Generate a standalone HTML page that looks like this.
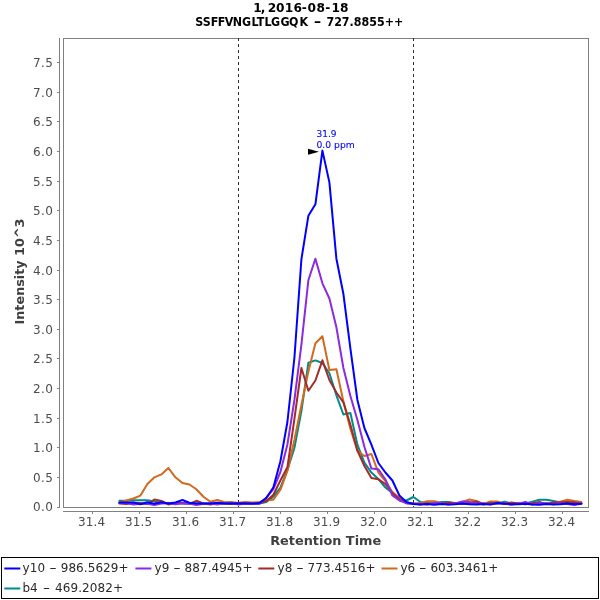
<!DOCTYPE html>
<html><head><meta charset="utf-8"><title>Chromatogram</title>
<style>
html,body{margin:0;padding:0;background:#fff;}
svg{display:block;}
text{font-family:"DejaVu Sans","Liberation Sans",sans-serif;}
.b{font-weight:bold;}
.tk{font-size:12px;fill:#4c4c4c;}
.lg{font-size:12px;fill:#2a2a2a;letter-spacing:0.07px;}
.an{font-size:9.4px;fill:#0000ff;stroke:#0000ff;stroke-width:0.1px;}
</style></head><body>
<svg width="600" height="600" viewBox="0 0 600 600">
<rect width="600" height="600" fill="#fff"/>

<text class="b" font-size="12" transform="translate(253.2,11.7) scale(1.018,1)" dx="0 -0.9 0 -1.9 -0.2 0.1 0.4 -0.3 0.8 0.4 0.2 1.1 0.1">1, 2016-08-18</text>
<text class="b" font-size="12" text-anchor="middle" style="word-spacing:2.8px" transform="translate(299.3,26) scale(0.925,1)" dx="0 0 0 -0.65 -0.65 -0.65 -0.22 0.43 0 0.22 -0.65 0.43 -0.43 1.08 0.65">SSFFVNGLTLGGQK <tspan dx="-1.6" textLength="8.2" lengthAdjust="spacingAndGlyphs">-</tspan><tspan dx="-1.4"> 727.8855++</tspan></text>
<rect x="63.5" y="38.5" width="525" height="469" fill="#fff" stroke="#808080" stroke-width="1"/>
<line x1="59.5" y1="38" x2="59.5" y2="508" stroke="#808080" stroke-width="1"/>
<line x1="63" y1="511.5" x2="589" y2="511.5" stroke="#808080" stroke-width="1"/>
<line x1="57" y1="507.5" x2="59" y2="507.5" stroke="#808080" stroke-width="1"/>
<text class="tk" x="52.9" y="511" text-anchor="end" textLength="20">0.0</text>
<line x1="57" y1="477.5" x2="59" y2="477.5" stroke="#808080" stroke-width="1"/>
<text class="tk" x="52.9" y="482" text-anchor="end" textLength="20">0.5</text>
<line x1="57" y1="447.5" x2="59" y2="447.5" stroke="#808080" stroke-width="1"/>
<text class="tk" x="52.9" y="452" text-anchor="end" textLength="20">1.0</text>
<line x1="57" y1="418.5" x2="59" y2="418.5" stroke="#808080" stroke-width="1"/>
<text class="tk" x="52.9" y="423" text-anchor="end" textLength="20">1.5</text>
<line x1="57" y1="388.5" x2="59" y2="388.5" stroke="#808080" stroke-width="1"/>
<text class="tk" x="52.9" y="393" text-anchor="end" textLength="20">2.0</text>
<line x1="57" y1="358.5" x2="59" y2="358.5" stroke="#808080" stroke-width="1"/>
<text class="tk" x="52.9" y="363" text-anchor="end" textLength="20">2.5</text>
<line x1="57" y1="329.5" x2="59" y2="329.5" stroke="#808080" stroke-width="1"/>
<text class="tk" x="52.9" y="334" text-anchor="end" textLength="20">3.0</text>
<line x1="57" y1="299.5" x2="59" y2="299.5" stroke="#808080" stroke-width="1"/>
<text class="tk" x="52.9" y="304" text-anchor="end" textLength="20">3.5</text>
<line x1="57" y1="270.5" x2="59" y2="270.5" stroke="#808080" stroke-width="1"/>
<text class="tk" x="52.9" y="275" text-anchor="end" textLength="20">4.0</text>
<line x1="57" y1="240.5" x2="59" y2="240.5" stroke="#808080" stroke-width="1"/>
<text class="tk" x="52.9" y="245" text-anchor="end" textLength="20">4.5</text>
<line x1="57" y1="210.5" x2="59" y2="210.5" stroke="#808080" stroke-width="1"/>
<text class="tk" x="52.9" y="215" text-anchor="end" textLength="20">5.0</text>
<line x1="57" y1="181.5" x2="59" y2="181.5" stroke="#808080" stroke-width="1"/>
<text class="tk" x="52.9" y="186" text-anchor="end" textLength="20">5.5</text>
<line x1="57" y1="151.5" x2="59" y2="151.5" stroke="#808080" stroke-width="1"/>
<text class="tk" x="52.9" y="156" text-anchor="end" textLength="20">6.0</text>
<line x1="57" y1="121.5" x2="59" y2="121.5" stroke="#808080" stroke-width="1"/>
<text class="tk" x="52.9" y="126" text-anchor="end" textLength="20">6.5</text>
<line x1="57" y1="92.5" x2="59" y2="92.5" stroke="#808080" stroke-width="1"/>
<text class="tk" x="52.9" y="97" text-anchor="end" textLength="20">7.0</text>
<line x1="57" y1="62.5" x2="59" y2="62.5" stroke="#808080" stroke-width="1"/>
<text class="tk" x="52.9" y="67" text-anchor="end" textLength="20">7.5</text>
<line x1="92.5" y1="512" x2="92.5" y2="514" stroke="#808080" stroke-width="1"/>
<text class="tk" x="91.6" y="526.2" text-anchor="middle" textLength="27.3">31.4</text>
<line x1="139.5" y1="512" x2="139.5" y2="514" stroke="#808080" stroke-width="1"/>
<text class="tk" x="138.6" y="526.2" text-anchor="middle" textLength="27.3">31.5</text>
<line x1="186.5" y1="512" x2="186.5" y2="514" stroke="#808080" stroke-width="1"/>
<text class="tk" x="185.6" y="526.2" text-anchor="middle" textLength="27.3">31.6</text>
<line x1="233.5" y1="512" x2="233.5" y2="514" stroke="#808080" stroke-width="1"/>
<text class="tk" x="232.6" y="526.2" text-anchor="middle" textLength="27.3">31.7</text>
<line x1="280.5" y1="512" x2="280.5" y2="514" stroke="#808080" stroke-width="1"/>
<text class="tk" x="279.6" y="526.2" text-anchor="middle" textLength="27.3">31.8</text>
<line x1="327.5" y1="512" x2="327.5" y2="514" stroke="#808080" stroke-width="1"/>
<text class="tk" x="326.6" y="526.2" text-anchor="middle" textLength="27.3">31.9</text>
<line x1="374.5" y1="512" x2="374.5" y2="514" stroke="#808080" stroke-width="1"/>
<text class="tk" x="373.6" y="526.2" text-anchor="middle" textLength="27.3">32.0</text>
<line x1="421.5" y1="512" x2="421.5" y2="514" stroke="#808080" stroke-width="1"/>
<text class="tk" x="420.6" y="526.2" text-anchor="middle" textLength="27.3">32.1</text>
<line x1="468.5" y1="512" x2="468.5" y2="514" stroke="#808080" stroke-width="1"/>
<text class="tk" x="467.6" y="526.2" text-anchor="middle" textLength="27.3">32.2</text>
<line x1="515.5" y1="512" x2="515.5" y2="514" stroke="#808080" stroke-width="1"/>
<text class="tk" x="514.6" y="526.2" text-anchor="middle" textLength="27.3">32.3</text>
<line x1="562.5" y1="512" x2="562.5" y2="514" stroke="#808080" stroke-width="1"/>
<text class="tk" x="561.6" y="526.2" text-anchor="middle" textLength="27.3">32.4</text>
<text class="b" x="325.7" y="545" font-size="13" fill="#404040" text-anchor="middle" textLength="111" lengthAdjust="spacingAndGlyphs">Retention Time</text>
<text class="b" font-size="13" fill="#404040" text-anchor="middle" textLength="106" lengthAdjust="spacingAndGlyphs" transform="translate(24.4,271.5) rotate(-90)">Intensity 10^3</text>
<line x1="238.5" y1="38" x2="238.5" y2="507" stroke="#2d2d2d" stroke-width="1" stroke-dasharray="3 3"/>
<line x1="413.5" y1="38" x2="413.5" y2="507" stroke="#2d2d2d" stroke-width="1" stroke-dasharray="3 3"/>
<polyline points="119.4,500.8 126.4,500.8 133.4,500.2 140.4,500.2 147.4,500.2 154.4,501.5 161.4,503.0 168.4,503.5 175.4,503.5 182.4,503.5 189.4,503.5 196.4,503.5 203.4,503.5 210.4,503.5 217.4,503.5 224.4,503.5 231.4,503.5 238.4,503.5 245.4,503.5 252.4,503.5 259.4,503.5 266.4,502.0 273.4,496.7 280.4,487.5 287.4,470.0 294.4,448.0 301.4,411.0 308.4,362.7 315.4,360.4 322.4,363.0 329.4,373.3 336.4,395.3 343.4,414.5 350.4,413.0 357.4,444.7 364.4,462.7 371.4,472.6 378.4,479.0 385.4,487.5 392.4,493.0 399.4,500.0 406.4,500.5 413.4,497.0 420.4,502.0 427.4,503.5 434.4,503.5 441.4,501.9 448.4,501.9 455.4,503.5 462.4,503.5 469.4,503.5 476.4,503.5 483.4,503.5 490.4,503.5 497.4,503.5 504.4,501.7 511.4,503.5 518.4,503.5 525.4,503.5 532.4,501.6 539.4,499.8 546.4,499.8 553.4,501.0 560.4,502.5 567.4,503.5 574.4,503.5 581.4,503.5" fill="none" stroke="#008b8b" stroke-width="2" stroke-linejoin="round" stroke-linecap="round"/>
<polyline points="119.4,502.5 126.4,500.5 133.4,498.5 140.4,495.6 147.4,484.0 154.4,477.3 161.4,474.4 168.4,468.0 175.4,477.3 182.4,483.0 189.4,484.5 196.4,489.3 203.4,496.7 210.4,501.7 217.4,500.0 224.4,502.3 231.4,502.0 238.4,503.0 245.4,502.0 252.4,502.5 259.4,502.0 266.4,500.3 273.4,499.8 280.4,489.8 287.4,471.0 294.4,440.0 301.4,405.0 308.4,371.5 315.4,343.3 322.4,336.2 329.4,370.0 336.4,369.2 343.4,401.5 350.4,428.7 357.4,450.7 364.4,456.0 371.4,454.0 378.4,472.6 385.4,481.0 392.4,492.0 399.4,498.0 406.4,503.5 413.4,504.0 420.4,503.0 427.4,501.3 434.4,501.3 441.4,503.0 448.4,503.5 455.4,503.5 462.4,502.0 469.4,499.5 476.4,501.0 483.4,504.0 490.4,501.5 497.4,501.5 504.4,504.0 511.4,503.5 518.4,503.5 525.4,503.5 532.4,503.5 539.4,503.5 546.4,503.5 553.4,503.5 560.4,501.6 567.4,499.8 574.4,501.0 581.4,502.0" fill="none" stroke="#d2691e" stroke-width="2" stroke-linejoin="round" stroke-linecap="round"/>
<polyline points="119.4,503.4 126.4,504.0 133.4,502.7 140.4,503.0 147.4,504.1 154.4,499.5 161.4,501.0 168.4,504.4 175.4,503.0 182.4,503.0 189.4,503.8 196.4,500.8 203.4,503.4 210.4,504.5 217.4,503.3 224.4,503.5 231.4,504.1 238.4,502.7 245.4,503.0 252.4,504.1 259.4,503.2 266.4,501.0 273.4,494.8 280.4,480.5 287.4,467.3 294.4,419.0 301.4,368.0 308.4,390.7 315.4,380.5 322.4,360.3 329.4,380.0 336.4,392.5 343.4,402.3 350.4,424.7 357.4,450.7 364.4,466.0 371.4,478.0 378.4,479.2 385.4,484.0 392.4,493.0 399.4,499.0 406.4,503.0 413.4,503.4 420.4,504.4 427.4,503.3 434.4,503.7 441.4,504.1 448.4,502.6 455.4,503.1 462.4,504.0 469.4,503.0 476.4,501.5 483.4,504.5 490.4,503.0 497.4,503.3 504.4,503.8 511.4,502.6 518.4,503.4 525.4,504.3 532.4,503.2 539.4,502.0 546.4,504.1 553.4,502.6 560.4,502.3 567.4,502.0 574.4,502.3 581.4,503.8" fill="none" stroke="#a52a2a" stroke-width="2" stroke-linejoin="round" stroke-linecap="round"/>
<polyline points="119.4,503.0 126.4,503.0 133.4,504.5 140.4,503.7 147.4,503.8 154.4,504.9 161.4,503.4 168.4,503.1 175.4,504.2 182.4,503.2 189.4,503.5 196.4,504.9 203.4,503.8 210.4,503.6 217.4,504.5 224.4,503.0 231.4,503.1 238.4,504.5 245.4,503.6 252.4,504.0 259.4,503.8 266.4,497.5 273.4,489.0 280.4,472.0 287.4,444.5 294.4,400.0 301.4,344.7 308.4,280.0 315.4,258.7 322.4,283.3 329.4,298.5 336.4,327.3 343.4,368.0 350.4,396.0 357.4,420.0 364.4,446.7 371.4,468.6 378.4,469.2 385.4,479.5 392.4,495.5 399.4,500.5 406.4,503.0 413.4,503.7 420.4,503.8 427.4,504.5 434.4,502.9 441.4,503.2 448.4,504.4 455.4,503.4 462.4,501.5 469.4,502.0 476.4,503.5 483.4,503.4 490.4,504.2 497.4,502.9 504.4,503.5 511.4,504.8 518.4,503.6 525.4,502.0 532.4,504.6 539.4,502.9 546.4,503.2 553.4,504.3 560.4,503.3 567.4,504.0 574.4,504.9 581.4,503.4" fill="none" stroke="#8a2be2" stroke-width="2" stroke-linejoin="round" stroke-linecap="round"/>
<polyline points="119.4,502.5 126.4,502.5 133.4,502.5 140.4,504.3 147.4,502.3 154.4,503.7 161.4,502.3 168.4,503.4 175.4,502.5 182.4,500.0 189.4,502.7 196.4,503.5 203.4,503.5 210.4,503.5 217.4,502.7 224.4,503.5 231.4,503.5 238.4,503.5 245.4,503.5 252.4,503.5 259.4,503.0 266.4,498.0 273.4,487.3 280.4,461.3 287.4,422.0 294.4,358.0 301.4,259.3 308.4,215.7 315.4,204.3 322.4,150.6 329.4,182.4 336.4,258.7 343.4,294.0 350.4,348.7 357.4,400.0 364.4,428.0 371.4,444.7 378.4,463.0 385.4,472.5 392.4,480.5 399.4,495.5 406.4,502.0 413.4,504.0 420.4,504.5 427.4,504.0 434.4,504.7 441.4,503.9 448.4,504.4 455.4,504.3 462.4,503.5 469.4,504.2 476.4,504.5 483.4,503.9 490.4,504.6 497.4,503.0 504.4,503.7 511.4,504.2 518.4,504.2 525.4,503.7 532.4,504.5 539.4,504.7 546.4,504.0 553.4,504.5 560.4,504.3 567.4,503.5 574.4,504.2 581.4,503.8" fill="none" stroke="#0000ff" stroke-width="2" stroke-linejoin="round" stroke-linecap="round"/>
<polygon points="308,148.7 319,151.7 308,154.7" fill="#000"/>
<text class="an" x="316.5" y="136.6" textLength="20.1" lengthAdjust="spacingAndGlyphs">31.9</text>
<text class="an" x="316.5" y="147.8" textLength="38.2" lengthAdjust="spacingAndGlyphs">0.0 ppm</text>
<rect x="1.5" y="557.5" width="597" height="41" fill="#fff" stroke="#000" stroke-width="1"/>
<line x1="5.3" y1="568.5" x2="19.3" y2="568.5" stroke="#0000ff" stroke-width="2" stroke-linecap="square"/>
<text class="lg" x="22.6" y="572" style="word-spacing:0.07px">y10 <tspan textLength="7.6" lengthAdjust="spacingAndGlyphs">-</tspan> 986.5629+</text>
<line x1="136.4" y1="568.5" x2="150.4" y2="568.5" stroke="#8a2be2" stroke-width="2" stroke-linecap="square"/>
<text class="lg" x="154.6" y="572" style="word-spacing:-0.13px">y9 <tspan textLength="7.6" lengthAdjust="spacingAndGlyphs">-</tspan> 887.4945+</text>
<line x1="259.3" y1="568.5" x2="273.3" y2="568.5" stroke="#a52a2a" stroke-width="2" stroke-linecap="square"/>
<text class="lg" x="277.6" y="572" style="word-spacing:-0.13px">y8 <tspan textLength="7.6" lengthAdjust="spacingAndGlyphs">-</tspan> 773.4516+</text>
<line x1="382.5" y1="568.5" x2="396.5" y2="568.5" stroke="#d2691e" stroke-width="2" stroke-linecap="square"/>
<text class="lg" x="400.4" y="572" style="word-spacing:-0.13px">y6 <tspan textLength="7.6" lengthAdjust="spacingAndGlyphs">-</tspan> 603.3461+</text>
<line x1="5.3" y1="588.5" x2="19.3" y2="588.5" stroke="#008b8b" stroke-width="2" stroke-linecap="square"/>
<text class="lg" x="22.4" y="592" style="word-spacing:0.97px">b4 <tspan textLength="7.6" lengthAdjust="spacingAndGlyphs">-</tspan> 469.2082+</text>
</svg></body></html>
